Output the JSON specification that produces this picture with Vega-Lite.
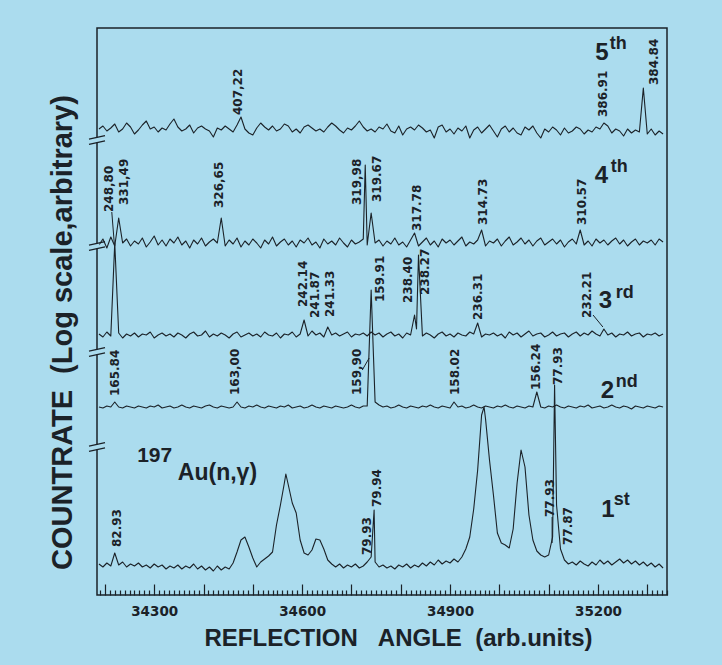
{
"$schema": "https://vega.github.io/schema/vega-lite/v6.json",
"width": 570, "height": 567,
"autosize": {"type": "none"},
"padding": {"left": 97, "top": 28, "right": 55, "bottom": 70},
"background": "#abdcee",
"config": {"view": {"stroke": "#1b2228", "strokeWidth": 1.5}, "font": "Liberation Sans"},
"datasets": {
"traces": [
{"x":34188,"a":31,"b":188,"c":261,"d":350,"e":466},
{"x":34196,"a":28,"b":187,"c":258,"d":356,"e":469},
{"x":34204,"a":32,"b":189,"c":263,"d":347,"e":464},
{"x":34212,"a":29,"b":188,"c":259,"d":358,"e":467},
{"x":34220,"a":42,"b":193,"c":352,"d":349,"e":471},
{"x":34228,"a":30,"b":188,"c":262,"d":377,"e":463},
{"x":34236,"a":33,"b":187,"c":257,"d":352,"e":466},
{"x":34244,"a":28,"b":189,"c":261,"d":356,"e":472},
{"x":34252,"a":31,"b":188,"c":259,"d":349,"e":468},
{"x":34260,"a":29,"b":187,"c":262,"d":354,"e":461},
{"x":34268,"a":32,"b":189,"c":258,"d":351,"e":465},
{"x":34276,"a":28,"b":188,"c":261,"d":357,"e":470},
{"x":34284,"a":30,"b":187,"c":260,"d":348,"e":474},
{"x":34292,"a":27,"b":189,"c":263,"d":353,"e":466},
{"x":34300,"a":31,"b":188,"c":257,"d":359,"e":468},
{"x":34308,"a":28,"b":190,"c":260,"d":350,"e":463},
{"x":34316,"a":30,"b":187,"c":262,"d":355,"e":467},
{"x":34324,"a":26,"b":188,"c":259,"d":349,"e":465},
{"x":34332,"a":29,"b":189,"c":261,"d":356,"e":471},
{"x":34340,"a":27,"b":187,"c":258,"d":352,"e":476},
{"x":34348,"a":30,"b":188,"c":262,"d":358,"e":468},
{"x":34356,"a":26,"b":190,"c":260,"d":350,"e":464},
{"x":34364,"a":29,"b":188,"c":257,"d":354,"e":466},
{"x":34372,"a":27,"b":187,"c":261,"d":347,"e":470},
{"x":34380,"a":31,"b":189,"c":263,"d":355,"e":462},
{"x":34388,"a":26,"b":188,"c":259,"d":351,"e":467},
{"x":34396,"a":29,"b":187,"c":260,"d":357,"e":469},
{"x":34404,"a":25,"b":189,"c":264,"d":349,"e":466},
{"x":34412,"a":28,"b":190,"c":258,"d":353,"e":464},
{"x":34420,"a":24,"b":188,"c":261,"d":356,"e":458},
{"x":34428,"a":29,"b":187,"c":259,"d":352,"e":467},
{"x":34436,"a":25,"b":189,"c":262,"d":377,"e":465},
{"x":34444,"a":28,"b":188,"c":260,"d":349,"e":469},
{"x":34452,"a":26,"b":187,"c":257,"d":355,"e":466},
{"x":34460,"a":32,"b":188,"c":261,"d":351,"e":463},
{"x":34468,"a":43,"b":193,"c":263,"d":357,"e":470},
{"x":34476,"a":55,"b":188,"c":258,"d":348,"e":478},
{"x":34484,"a":58,"b":187,"c":260,"d":354,"e":466},
{"x":34492,"a":48,"b":189,"c":262,"d":350,"e":462},
{"x":34500,"a":37,"b":188,"c":259,"d":356,"e":460},
{"x":34508,"a":28,"b":190,"c":261,"d":352,"e":467},
{"x":34516,"a":33,"b":188,"c":258,"d":347,"e":472},
{"x":34524,"a":36,"b":187,"c":263,"d":355,"e":468},
{"x":34532,"a":39,"b":189,"c":260,"d":351,"e":465},
{"x":34540,"a":43,"b":188,"c":259,"d":358,"e":469},
{"x":34548,"a":70,"b":187,"c":262,"d":349,"e":464},
{"x":34556,"a":90,"b":189,"c":257,"d":353,"e":466},
{"x":34564,"a":112,"b":188,"c":261,"d":356,"e":471},
{"x":34567,"a":121},
{"x":34572,"a":110,"b":190,"c":260,"d":350,"e":469},
{"x":34580,"a":92,"b":187,"c":263,"d":354,"e":463},
{"x":34588,"a":82,"b":188,"c":258,"d":348,"e":466},
{"x":34596,"a":55,"b":189,"c":261,"d":355,"e":462},
{"x":34604,"a":42,"b":187,"c":275,"d":352,"e":468},
{"x":34612,"a":40,"b":188,"c":259,"d":357,"e":470},
{"x":34620,"a":45,"b":190,"c":264,"d":350,"e":467},
{"x":34628,"a":56,"b":188,"c":260,"d":353,"e":464},
{"x":34636,"a":55,"b":187,"c":262,"d":347,"e":466},
{"x":34644,"a":46,"b":189,"c":258,"d":356,"e":463},
{"x":34652,"a":35,"b":188,"c":268,"d":351,"e":468},
{"x":34660,"a":31,"b":187,"c":260,"d":354,"e":472},
{"x":34668,"a":28,"b":189,"c":262,"d":350,"e":469},
{"x":34676,"a":31,"b":188,"c":259,"d":357,"e":465},
{"x":34684,"a":27,"b":187,"c":261,"d":352,"e":462},
{"x":34692,"a":30,"b":188,"c":263,"d":348,"e":467},
{"x":34700,"a":28,"b":190,"c":258,"d":355,"e":465},
{"x":34708,"a":31,"b":188,"c":261,"d":351,"e":469},
{"x":34716,"a":27,"b":187,"c":260,"d":353,"e":474},
{"x":34724,"a":29,"b":189,"c":262,"d":356,"e":468},
{"x":34728,"d":430},
{"x":34732,"a":33,"b":189,"c":259,"d":350,"e":464},
{"x":34740,"a":38,"b":305,"c":263,"d":382,"e":466},
{"x":34746,"a":85},
{"x":34748,"a":33,"b":193,"c":260,"d":352,"e":463},
{"x":34756,"a":28,"b":190,"c":262,"d":355,"e":468},
{"x":34764,"a":30,"b":188,"c":258,"d":349,"e":466},
{"x":34772,"a":27,"b":189,"c":261,"d":354,"e":471},
{"x":34780,"a":29,"b":187,"c":263,"d":351,"e":464},
{"x":34788,"a":26,"b":188,"c":259,"d":357,"e":462},
{"x":34796,"a":30,"b":190,"c":261,"d":350,"e":469},
{"x":34804,"a":28,"b":188,"c":257,"d":353,"e":460},
{"x":34812,"a":31,"b":187,"c":262,"d":348,"e":466},
{"x":34820,"a":27,"b":189,"c":260,"d":355,"e":468},
{"x":34828,"a":30,"b":188,"c":280,"d":362,"e":465},
{"x":34832,"c":266},
{"x":34836,"a":28,"b":187,"c":340,"d":349,"e":470},
{"x":34844,"a":32,"b":189,"c":259,"d":353,"e":467},
{"x":34852,"a":29,"b":188,"c":262,"d":357,"e":463},
{"x":34860,"a":33,"b":190,"c":260,"d":350,"e":465},
{"x":34868,"a":30,"b":188,"c":257,"d":354,"e":457},
{"x":34876,"a":35,"b":187,"c":261,"d":348,"e":468},
{"x":34884,"a":31,"b":189,"c":263,"d":356,"e":470},
{"x":34892,"a":34,"b":188,"c":259,"d":352,"e":463},
{"x":34900,"a":32,"b":187,"c":261,"d":355,"e":466},
{"x":34908,"a":36,"b":193,"c":258,"d":350,"e":461},
{"x":34916,"a":33,"b":188,"c":262,"d":354,"e":467},
{"x":34924,"a":38,"b":189,"c":260,"d":358,"e":464},
{"x":34932,"a":46,"b":187,"c":259,"d":349,"e":469},
{"x":34940,"a":58,"b":188,"c":263,"d":353,"e":457},
{"x":34948,"a":86,"b":190,"c":261,"d":351,"e":465},
{"x":34956,"a":125,"b":188,"c":272,"d":355,"e":468},
{"x":34964,"a":180,"b":187,"c":258,"d":365,"e":462},
{"x":34969,"a":188},
{"x":34972,"a":176,"b":189,"c":261,"d":349,"e":466},
{"x":34980,"a":135,"b":188,"c":260,"d":354,"e":470},
{"x":34988,"a":100,"b":187,"c":262,"d":352,"e":464},
{"x":34996,"a":62,"b":189,"c":259,"d":356,"e":458},
{"x":35004,"a":52,"b":188,"c":261,"d":349,"e":466},
{"x":35012,"a":50,"b":190,"c":257,"d":354,"e":469},
{"x":35020,"a":47,"b":188,"c":263,"d":358,"e":463},
{"x":35028,"a":66,"b":187,"c":260,"d":350,"e":467},
{"x":35036,"a":112,"b":189,"c":262,"d":353,"e":462},
{"x":35044,"a":145,"b":188,"c":258,"d":357,"e":460},
{"x":35052,"a":128,"b":187,"c":261,"d":351,"e":468},
{"x":35060,"a":80,"b":189,"c":264,"d":355,"e":465},
{"x":35068,"a":55,"b":188,"c":259,"d":349,"e":469},
{"x":35076,"a":44,"b":203,"c":261,"d":354,"e":462},
{"x":35084,"a":40,"b":188,"c":262,"d":357,"e":457},
{"x":35092,"a":38,"b":187,"c":258,"d":350,"e":466},
{"x":35100,"a":40,"b":189,"c":260,"d":353,"e":463},
{"x":35108,"a":58,"b":188,"c":263,"d":356,"e":468},
{"x":35112,"a":210},
{"x":35116,"a":90,"b":190,"c":259,"d":351,"e":465},
{"x":35124,"a":46,"b":188,"c":261,"d":355,"e":460},
{"x":35132,"a":35,"b":187,"c":262,"d":348,"e":467},
{"x":35140,"a":31,"b":189,"c":258,"d":353,"e":462},
{"x":35148,"a":33,"b":188,"c":261,"d":356,"e":464},
{"x":35156,"a":30,"b":187,"c":263,"d":351,"e":468},
{"x":35164,"a":34,"b":189,"c":259,"d":365,"e":466},
{"x":35172,"a":31,"b":188,"c":262,"d":350,"e":461},
{"x":35180,"a":29,"b":190,"c":260,"d":354,"e":465},
{"x":35188,"a":33,"b":187,"c":264,"d":349,"e":463},
{"x":35196,"a":30,"b":188,"c":261,"d":356,"e":468},
{"x":35204,"a":35,"b":189,"c":259,"d":352,"e":466},
{"x":35212,"a":31,"b":187,"c":266,"d":355,"e":472},
{"x":35220,"a":34,"b":188,"c":260,"d":350,"e":469},
{"x":35228,"a":30,"b":190,"c":262,"d":354,"e":462},
{"x":35236,"a":33,"b":188,"c":258,"d":357,"e":466},
{"x":35244,"a":36,"b":187,"c":261,"d":351,"e":464},
{"x":35252,"a":32,"b":189,"c":260,"d":355,"e":459},
{"x":35260,"a":35,"b":188,"c":263,"d":349,"e":466},
{"x":35268,"a":31,"b":186,"c":259,"d":353,"e":462},
{"x":35276,"a":34,"b":189,"c":261,"d":356,"e":465},
{"x":35284,"a":30,"b":188,"c":262,"d":350,"e":463},
{"x":35292,"a":33,"b":187,"c":258,"d":354,"e":507},
{"x":35300,"a":29,"b":189,"c":261,"d":352,"e":461},
{"x":35308,"a":32,"b":188,"c":260,"d":355,"e":466},
{"x":35316,"a":28,"b":187,"c":262,"d":350,"e":460},
{"x":35324,"a":31,"b":189,"c":259,"d":356,"e":464},
{"x":35332,"a":27,"b":188,"c":261,"d":353,"e":461}
],
"labels": [
{"x":34470,"y":480,"t":"407,22"},
{"x":35210,"y":478,"t":"386.91"},
{"x":35313,"y":510,"t":"384.84"},
{"x":34208,"y":383,"t":"248,80"},
{"x":34239,"y":390,"t":"331,49"},
{"x":34431,"y":387,"t":"326,65"},
{"x":34711,"y":390,"t":"319,98"},
{"x":34752,"y":393,"t":"319.67"},
{"x":34833,"y":364,"t":"317.78"},
{"x":34967,"y":370,"t":"314.73"},
{"x":35168,"y":370,"t":"310.57"},
{"x":34602,"y":288,"t":"242.14"},
{"x":34626,"y":277,"t":"241.87"},
{"x":34657,"y":278,"t":"241.33"},
{"x":34758,"y":293,"t":"159.91"},
{"x":34815,"y":292,"t":"238.40"},
{"x":34849,"y":300,"t":"238.27"},
{"x":34957,"y":275,"t":"236.31"},
{"x":35178,"y":277,"t":"232.21"},
{"x":34221,"y":199,"t":"165.84"},
{"x":34464,"y":200,"t":"163,00"},
{"x":34711,"y":200,"t":"159,90"},
{"x":34910,"y":200,"t":"158.02"},
{"x":35074,"y":205,"t":"156.24"},
{"x":35119,"y":210,"t":"77.93"},
{"x":34225,"y":48,"t":"82.93"},
{"x":34732,"y":40,"t":"79.93"},
{"x":34752,"y":88,"t":"79.94"},
{"x":35103,"y":78,"t":"77.93"},
{"x":35139,"y":50,"t":"77.87"}
],
"leaders": [
{"x":35190,"y":280,"x2":35210,"y2":268},
{"x":34722,"y":225,"x2":34736,"y2":237},
{"x":34214,"y":383,"x2":34219,"y2":352},
{"x":35107,"y":78,"x2":35107,"y2":52}
],
"breaks": [
{"x":34184,"y":455},
{"x":34184,"y":349},
{"x":34184,"y":243},
{"x":34184,"y":148}
],
"orders": [
{"x":35208,"y":535,"t":"5"},
{"x":35207,"y":412,"t":"4"},
{"x":35215,"y":287,"t":"3"},
{"x":35219,"y":197,"t":"2"},
{"x":35220,"y":78,"t":"1"}
],
"sups": [
{"x":35224,"y":546,"t":"th"},
{"x":35226,"y":423,"t":"th"},
{"x":35236,"y":297,"t":"rd"},
{"x":35236,"y":208,"t":"nd"},
{"x":35232,"y":90,"t":"st"}
],
"mass": [{"x":34301,"y":133,"t":"197"}],
"reaction": [{"x":34348,"y":115,"t":"Au(n,γ)"}]
},
"encoding": {
"x": {"field": "x", "type": "quantitative",
 "scale": {"domain": [34184, 35340], "nice": false, "zero": false},
 "axis": {
  "title": "REFLECTION\u00a0\u00a0\u00a0ANGLE\u00a0\u00a0(arb.units)",
  "titleFont": "Liberation Sans", "titleFontSize": 24, "titleFontWeight": "bold", "titleColor": "#1b2228",
  "titleX": 301, "titleY": 50, "titleBaseline": "alphabetic", "titleAlign": "center",
  "domain": false, "grid": false, "tickCount": 116,
  "tickColor": "#1b2228", "tickWidth": 1.2,
  "tickSize": {"condition": {"test": "datum.value % 100 === 0", "value": -11}, "value": -5},
  "labelExpr": "datum.value % 300 === 100 ? format(datum.value, 'd') : ''",
  "labelOverlap": false, "labelFlush": false,
  "labelFont": "DejaVu Sans", "labelFontSize": 13.5, "labelFontWeight": "bold", "labelColor": "#1b2228",
  "labelPadding": 20
 }},
"y": {"field": "y", "type": "quantitative",
 "scale": {"domain": [0, 567], "nice": false, "zero": false},
 "axis": {
  "title": "COUNTRATE\u00a0\u00a0(Log\u00a0scale,arbitrary)",
  "titleFont": "Liberation Sans", "titleFontSize": 29, "titleFontWeight": "bold", "titleColor": "#1b2228",
  "titleX": -35, "titleY": 304, "titleAngle": 270, "titleAlign": "center", "titleBaseline": "middle",
  "domain": false, "ticks": false, "labels": false, "grid": false
 }}
},
"layer": [
{"data": {"name": "traces"},
 "transform": [{"fold": ["a", "b", "c", "d", "e"], "as": ["s", "y"]}, {"filter": "isValid(datum.y)"}],
 "mark": {"type": "line", "color": "#1b2228", "strokeWidth": 1.1, "strokeJoin": "round"},
 "encoding": {"detail": {"field": "s"}}},
{"data": {"name": "leaders"},
 "mark": {"type": "rule", "color": "#1b2228", "strokeWidth": 1},
 "encoding": {"x2": {"field": "x2"}, "y2": {"field": "y2"}}},
{"data": {"name": "breaks"},
 "mark": {"type": "point", "shape": "M-0.3,-0.3L0.3,-0.3L0.3,0.3L-0.3,0.3Z", "filled": true, "fill": "#abdcee", "stroke": null, "opacity": 1, "size": 256},
 "encoding": {}},
{"data": {"name": "breaks"},
 "mark": {"type": "point", "shape": "M-1,-0.12L1,-0.55M-1,0.55L1,0.12", "filled": false, "stroke": "#1b2228", "strokeWidth": 1.3, "opacity": 1, "size": 256},
 "encoding": {}},
{"data": {"name": "labels"},
 "mark": {"type": "text", "angle": 270, "align": "left", "baseline": "middle", "font": "DejaVu Sans", "fontSize": 12, "fontWeight": "bold", "color": "#1b2228"},
 "encoding": {"text": {"field": "t"}}},
{"data": {"name": "orders"},
 "mark": {"type": "text", "align": "center", "baseline": "alphabetic", "font": "Liberation Sans", "fontSize": 24, "fontWeight": "bold", "color": "#1b2228"},
 "encoding": {"text": {"field": "t"}}},
{"data": {"name": "sups"},
 "mark": {"type": "text", "align": "left", "baseline": "alphabetic", "font": "Liberation Sans", "fontSize": 18, "fontWeight": "bold", "color": "#1b2228"},
 "encoding": {"text": {"field": "t"}}},
{"data": {"name": "mass"},
 "mark": {"type": "text", "align": "center", "baseline": "alphabetic", "font": "Liberation Sans", "fontSize": 21, "fontWeight": "bold", "color": "#1b2228"},
 "encoding": {"text": {"field": "t"}}},
{"data": {"name": "reaction"},
 "mark": {"type": "text", "align": "left", "baseline": "alphabetic", "font": "Liberation Sans", "fontSize": 23, "fontWeight": "bold", "color": "#1b2228"},
 "encoding": {"text": {"field": "t"}}}
]
}
